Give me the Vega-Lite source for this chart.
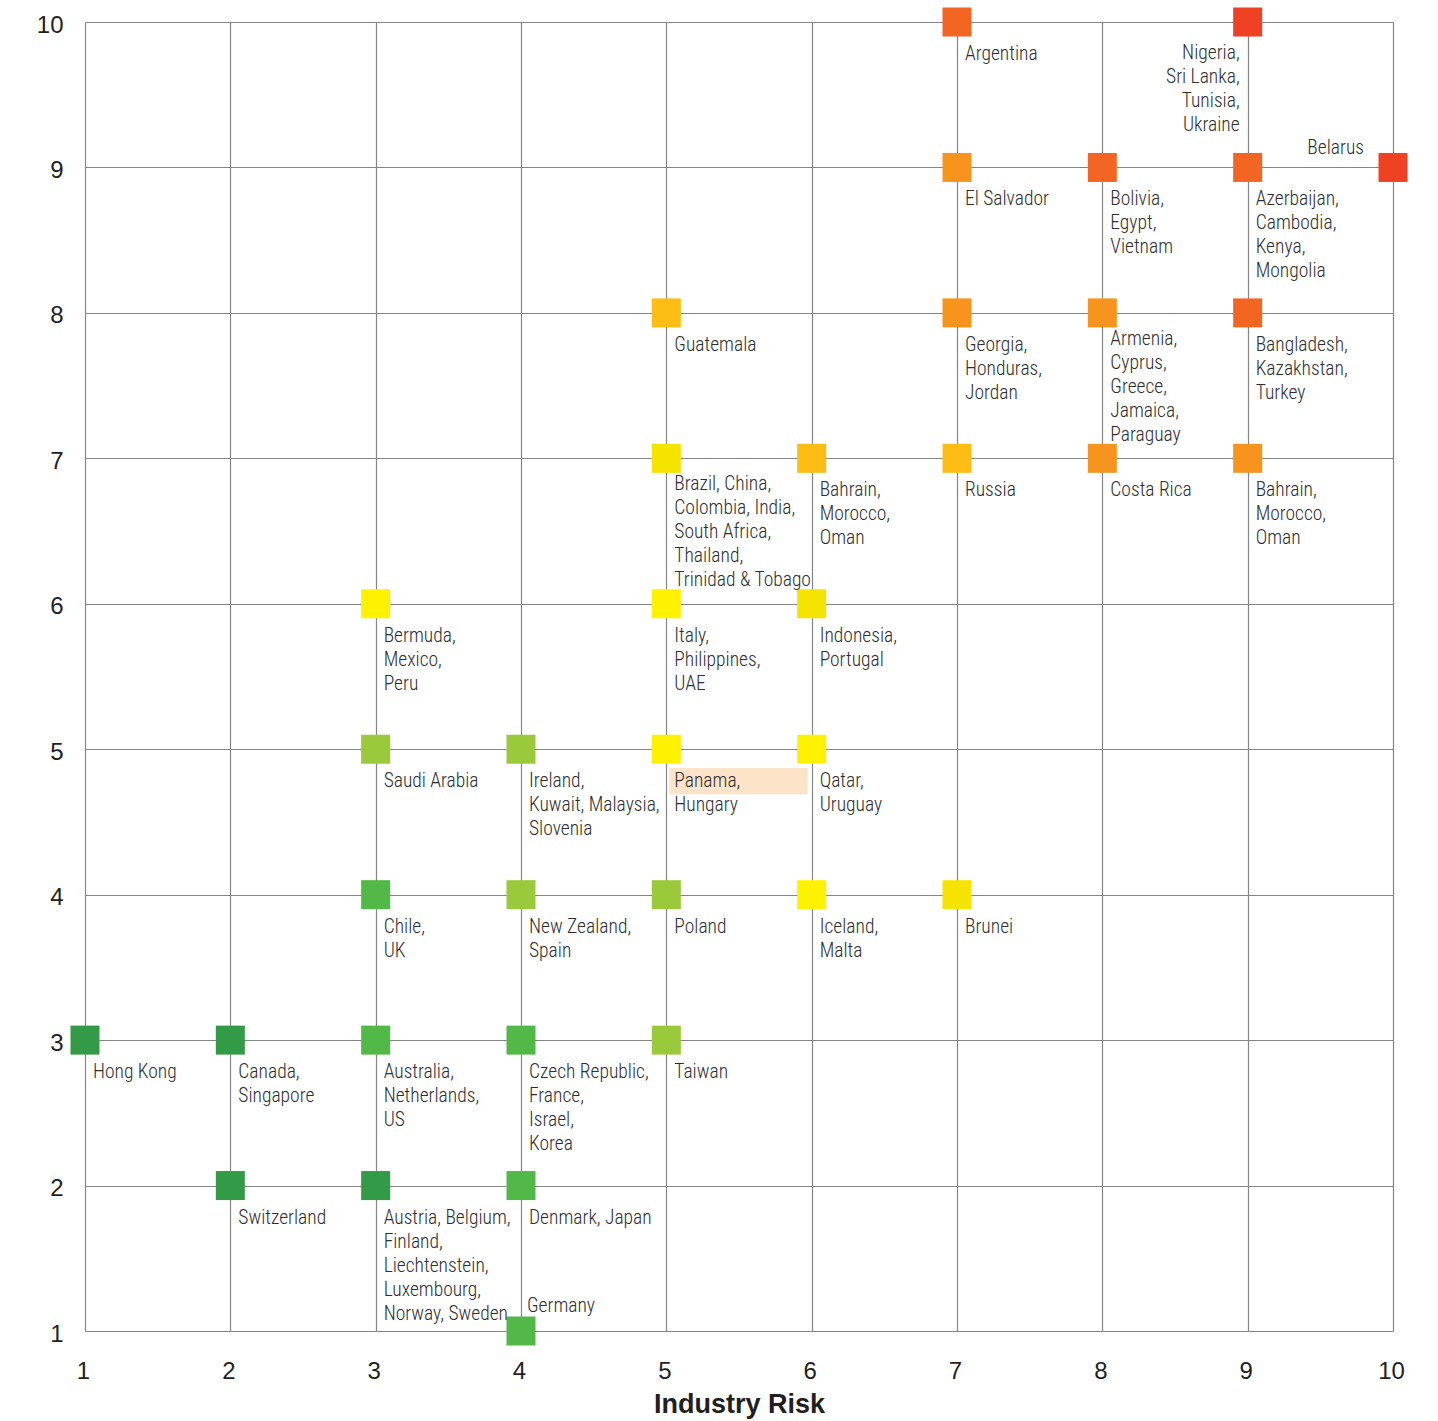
{
  "$schema": "https://vega.github.io/schema/vega-lite/v6.json",
  "width": 1308,
  "height": 1309,
  "autosize": {"type": "none"},
  "padding": {"left": 85, "top": 22, "right": 45, "bottom": 90},
  "background": "white",
  "config": {
    "view": {"stroke": null},
    "axis": {
      "grid": true,
      "gridColor": "#858585",
      "gridWidth": 1.2,
      "gridOpacity": 1,
      "domain": false,
      "ticks": false,
      "labelFont": "Liberation Sans",
      "labelFontSize": 24,
      "labelColor": "#231f20",
      "titleFont": "Liberation Sans",
      "titleColor": "#231f20"
    },
    "text": {"font": "Roboto Condensed", "fontSize": 19.5, "fontWeight": 300, "lineHeight": 24, "lineBreak": "\n", "color": "#2e2e2e", "baseline": "alphabetic"}
  },
  "datasets": {
    "points": [
      {"industry": 1, "country": 3, "tier": 1, "label": "Hong Kong"},
      {"industry": 2, "country": 3, "tier": 1, "label": "Canada,\nSingapore"},
      {"industry": 2, "country": 2, "tier": 1, "label": "Switzerland"},
      {"industry": 3, "country": 2, "tier": 1, "label": "Austria, Belgium,\nFinland,\nLiechtenstein,\nLuxembourg,\nNorway, Sweden"},
      {"industry": 3, "country": 3, "tier": 2, "label": "Australia,\nNetherlands,\nUS"},
      {"industry": 3, "country": 4, "tier": 2, "label": "Chile,\nUK"},
      {"industry": 3, "country": 5, "tier": 3, "label": "Saudi Arabia"},
      {"industry": 3, "country": 6, "tier": 4, "label": "Bermuda,\nMexico,\nPeru"},
      {"industry": 4, "country": 1, "tier": 2, "label": "Germany"},
      {"industry": 4, "country": 2, "tier": 2, "label": "Denmark, Japan"},
      {"industry": 4, "country": 3, "tier": 2, "label": "Czech Republic,\nFrance,\nIsrael,\nKorea"},
      {"industry": 4, "country": 4, "tier": 3, "label": "New Zealand,\nSpain"},
      {"industry": 4, "country": 5, "tier": 3, "label": "Ireland,\nKuwait, Malaysia,\nSlovenia"},
      {"industry": 5, "country": 3, "tier": 3, "label": "Taiwan"},
      {"industry": 5, "country": 4, "tier": 3, "label": "Poland"},
      {"industry": 5, "country": 5, "tier": 4, "label": "Panama,\nHungary"},
      {"industry": 5, "country": 6, "tier": 4, "label": "Italy,\nPhilippines,\nUAE"},
      {"industry": 5, "country": 7, "tier": 5, "label": "Brazil, China,\nColombia, India,\nSouth Africa,\nThailand,\nTrinidad & Tobago"},
      {"industry": 5, "country": 8, "tier": 6, "label": "Guatemala"},
      {"industry": 6, "country": 4, "tier": 4, "label": "Iceland,\nMalta"},
      {"industry": 6, "country": 5, "tier": 4, "label": "Qatar,\nUruguay"},
      {"industry": 6, "country": 6, "tier": 5, "label": "Indonesia,\nPortugal"},
      {"industry": 6, "country": 7, "tier": 6, "label": "Bahrain,\nMorocco,\nOman"},
      {"industry": 7, "country": 4, "tier": 5, "label": "Brunei"},
      {"industry": 7, "country": 7, "tier": 6, "label": "Russia"},
      {"industry": 7, "country": 8, "tier": 7, "label": "Georgia,\nHonduras,\nJordan"},
      {"industry": 7, "country": 9, "tier": 7, "label": "El Salvador"},
      {"industry": 7, "country": 10, "tier": 8, "label": "Argentina"},
      {"industry": 8, "country": 7, "tier": 7, "label": "Costa Rica"},
      {"industry": 8, "country": 8, "tier": 7, "label": "Armenia,\nCyprus,\nGreece,\nJamaica,\nParaguay"},
      {"industry": 8, "country": 9, "tier": 8, "label": "Bolivia,\nEgypt,\nVietnam"},
      {"industry": 9, "country": 7, "tier": 7, "label": "Bahrain,\nMorocco,\nOman"},
      {"industry": 9, "country": 8, "tier": 8, "label": "Bangladesh,\nKazakhstan,\nTurkey"},
      {"industry": 9, "country": 9, "tier": 8, "label": "Azerbaijan,\nCambodia,\nKenya,\nMongolia"},
      {"industry": 9, "country": 10, "tier": 9, "label": "Nigeria,\nSri Lanka,\nTunisia,\nUkraine"},
      {"industry": 10, "country": 9, "tier": 9, "label": "Belarus"}
    ],
    "highlight": [
      {"x1": 5.02, "x2": 5.973, "y1": 4.871, "y2": 4.69}
    ]
  },
  "layer": [
    {
      "data": {"name": "highlight"},
      "mark": {"type": "rect", "color": "#fde4c8"},
      "encoding": {
        "x": {"field": "x1", "type": "quantitative", "scale": {"domain": [1, 10], "nice": false, "zero": false},
              "axis": {"values": [1,2,3,4,5,6,7,8,9,10], "format": "d", "title": "Industry Risk", "titleFontSize": 27, "titleFontWeight": "bold", "titlePadding": 8, "labelPadding": 28, "labelOffset": -2, "labelFlush": false}},
        "x2": {"field": "x2"},
        "y": {"field": "y1", "type": "quantitative", "scale": {"domain": [1, 10], "nice": false, "zero": false},
              "axis": {"values": [1,2,3,4,5,6,7,8,9,10], "format": "d", "title": null, "labelPadding": 22, "labelOffset": 3, "labelFlush": false}},
        "y2": {"field": "y2"}
      }
    },
    {
      "data": {"name": "points"},
      "layer": [
        {
          "mark": {"type": "point", "shape": "square", "filled": true, "size": 841, "opacity": 1, "strokeWidth": 0},
          "encoding": {
            "x": {"field": "industry", "type": "quantitative"},
            "y": {"field": "country", "type": "quantitative"},
            "color": {"field": "tier", "type": "ordinal",
                      "scale": {"domain": [1,2,3,4,5,6,7,8,9], "range": ["#339a47", "#52b848", "#9bc93c", "#fff200", "#f5e400", "#fdbd14", "#f7941d", "#f26522", "#ef4123"]},
                      "legend": null}
          }
        },
        {
          "transform": [{"filter": "!(datum.industry==9&&datum.country==10) && !(datum.industry==10&&datum.country==9) && !(datum.industry==4&&datum.country==1) && !(datum.industry==8&&datum.country==8) && !(datum.industry==5&&datum.country==7)"}],
          "mark": {"type": "text", "align": "left", "dx": 8, "dy": 38},
          "encoding": {
            "x": {"field": "industry", "type": "quantitative"},
            "y": {"field": "country", "type": "quantitative"},
            "text": {"field": "label"}
          }
        },
        {
          "transform": [{"filter": "(datum.industry==8&&datum.country==8) || (datum.industry==5&&datum.country==7)"}],
          "mark": {"type": "text", "align": "left", "dx": 8, "dy": 32},
          "encoding": {
            "x": {"field": "industry", "type": "quantitative"},
            "y": {"field": "country", "type": "quantitative"},
            "text": {"field": "label"}
          }
        },
        {
          "transform": [{"filter": "datum.industry==9&&datum.country==10"}],
          "mark": {"type": "text", "align": "right", "dx": -8, "dy": 37},
          "encoding": {
            "x": {"field": "industry", "type": "quantitative"},
            "y": {"field": "country", "type": "quantitative"},
            "text": {"field": "label"}
          }
        },
        {
          "transform": [{"filter": "datum.industry==10&&datum.country==9"}],
          "mark": {"type": "text", "align": "right", "dx": -29, "dy": -13},
          "encoding": {
            "x": {"field": "industry", "type": "quantitative"},
            "y": {"field": "country", "type": "quantitative"},
            "text": {"field": "label"}
          }
        },
        {
          "transform": [{"filter": "datum.industry==4&&datum.country==1"}],
          "mark": {"type": "text", "align": "left", "dx": 6, "dy": -19},
          "encoding": {
            "x": {"field": "industry", "type": "quantitative"},
            "y": {"field": "country", "type": "quantitative"},
            "text": {"field": "label"}
          }
        }
      ]
    }
  ]
}
